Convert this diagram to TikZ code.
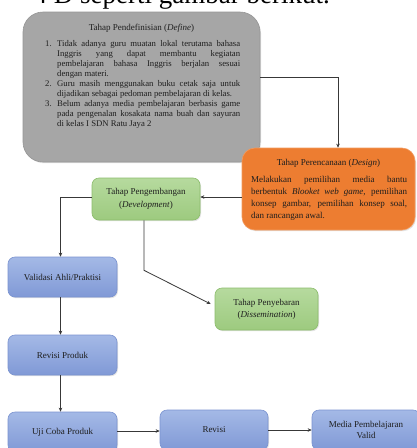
\documentclass[tikz,border=0pt]{standalone}
\usepackage{fontspec}
\setmainfont{Liberation Serif}
\usetikzlibrary{arrows.meta,shadows,calc}
\definecolor{grayfill}{HTML}{A6A6A6}
\definecolor{grayline}{HTML}{959595}
\definecolor{orangefill}{HTML}{ED7D31}
\definecolor{orangeline}{HTML}{F29A5E}
\definecolor{greentop}{HTML}{B6DA9E}
\definecolor{greenbot}{HTML}{9DCA7F}
\definecolor{greenline}{HTML}{8CBD6C}
\definecolor{bluetop}{HTML}{A4B9E6}
\definecolor{bluebot}{HTML}{8099D6}
\definecolor{blueline}{HTML}{7A93D0}
\definecolor{txt}{HTML}{1E1E1E}
\definecolor{conncol}{HTML}{383838}
\newcommand{\itm}[1]{\par\noindent\hangindent=12pt\hangafter=1\makebox[12pt][l]{#1}}
\begin{document}
\begin{tikzpicture}[x=1pt,y=-1pt,
  font=\fontsize{9}{10}\selectfont, text=txt,
  shad/.style={drop shadow={opacity=0.22,shadow xshift=1pt,shadow yshift=-1.2pt}},
  graybox/.style={shad,draw=grayline,fill=grayfill,line width=0.6pt,rounded corners=20pt,inner sep=0pt},
  orangebox/.style={shad,draw=orangeline,fill=orangefill,line width=0.6pt,rounded corners=13pt,inner sep=0pt},
  greenbox/.style={shad,draw=greenline,top color=greentop,bottom color=greenbot,line width=0.6pt,rounded corners=7pt,inner sep=0pt,align=center},
  bluebox/.style={shad,draw=blueline,top color=bluetop,bottom color=bluebot,line width=0.6pt,rounded corners=7pt,inner sep=0pt,align=center,minimum width=109pt,minimum height=40pt},
  conn/.style={draw=conncol,line width=0.8pt,-{Stealth[length=4pt,width=3.5pt]}},
  plain/.style={inner sep=0pt}]
\useasboundingbox (0,0) rectangle (417,448);
\clip (0,0) rectangle (417,448);
\fill[white] (0,0) rectangle (417,448);

% page text cut at the top
\node[plain,anchor=north east,font=\fontsize{27}{27}\selectfont,text=black] (pagetext) at (330,-15.5) {4 D seperti gambar berikut.};

% boxes
\node[graybox,minimum width=237pt,minimum height=150pt] (def) at (141.5,87) {};
\node[plain,anchor=base] (deftitle) at (141.5,30) {Tahap Pendefinisian (\textit{Define})};
\node[plain,anchor=north west,text width=195pt,align=justify,font=\fontsize{8.7}{10}\selectfont] (defbody) at (45,35.8) {\tolerance=10000\hyphenpenalty=10000
\itm{1.}Tidak adanya guru muatan lokal terutama bahasa\linebreak Inggris yang dapat membantu kegiatan\linebreak pembelajaran bahasa Inggris berjalan sesuai\linebreak dengan materi.
\itm{2.}Guru masih menggunakan buku cetak saja untuk\linebreak dijadikan sebagai pedoman pembelajaran di kelas.
\itm{3.}Belum adanya media pembelajaran berbasis game\linebreak pada pengenalan kosakata nama buah dan sayuran\linebreak di kelas I SDN Ratu Jaya 2\par};

\node[orangebox,minimum width=173pt,minimum height=82pt] (des) at (328.5,189) {};
\node[plain,anchor=base] (destitle) at (328.5,165) {Tahap Perencanaan (\textit{Design})};
\node[plain,anchor=north west,text width=156pt,align=justify,font=\fontsize{9}{11.8}\selectfont] (desbody) at (251,176.5) {\tolerance=10000\hyphenpenalty=10000 Melakukan pemilihan media bantu\linebreak berbentuk \textit{Blooket web game}, pemilihan\linebreak konsep gambar, pemilihan konsep soal,\linebreak dan rancangan awal.\par};

\node[greenbox,minimum width=108pt,minimum height=42pt,font=\fontsize{9}{13}\selectfont] (dev) at (146,199) {Tahap Pengembangan\\(\textit{Development})};
\node[greenbox,minimum width=103pt,minimum height=42pt,font=\fontsize{9}{12}\selectfont] (dis) at (266.5,309) {Tahap Penyebaran\\(\textit{Dissemination})};

\node[bluebox] (val) at (62.5,277) {Validasi Ahli/Praktisi};
\node[bluebox] (revp) at (62.5,355) {Revisi Produk};
\node[bluebox] (uji) at (62.5,432) {Uji Coba Produk};
\node[bluebox,minimum width=108pt] (rev) at (214,430) {Revisi};
\node[bluebox,minimum width=108pt,font=\fontsize{9}{11}\selectfont] (med) at (366,430) {Media Pembelajaran\\Valid};

% connectors
\draw[conn] ($(def.east)+(0,-10)$) -| ($(des.north)+(9.5,0)$);
\draw[conn] (des.west |- {$(dev.east)+(0,-2)$}) -- ($(dev.east)+(0,-2)$);
\draw[conn] ($(dev.west)+(0,-2)$) -| ($(val.north)+(-2,0)$);
\draw[conn] ($(dev.south)+(-2,0)$) -- ++(0,50) -- ($(dis.west)+(-4,-5)$);
\draw[conn] ($(val.south)+(-2,0)$) -- ($(revp.north)+(-2,0)$);
\draw[conn] ($(revp.south)+(-2,0)$) -- ($(uji.north)+(-2,0)$);
\draw[conn] ($(uji.east)+(0,-1)$) -- (rev.west |- {$(uji.east)+(0,-1)$});
\draw[conn] (rev.east) -- (med.west |- rev.east);
\end{tikzpicture}
\end{document}
